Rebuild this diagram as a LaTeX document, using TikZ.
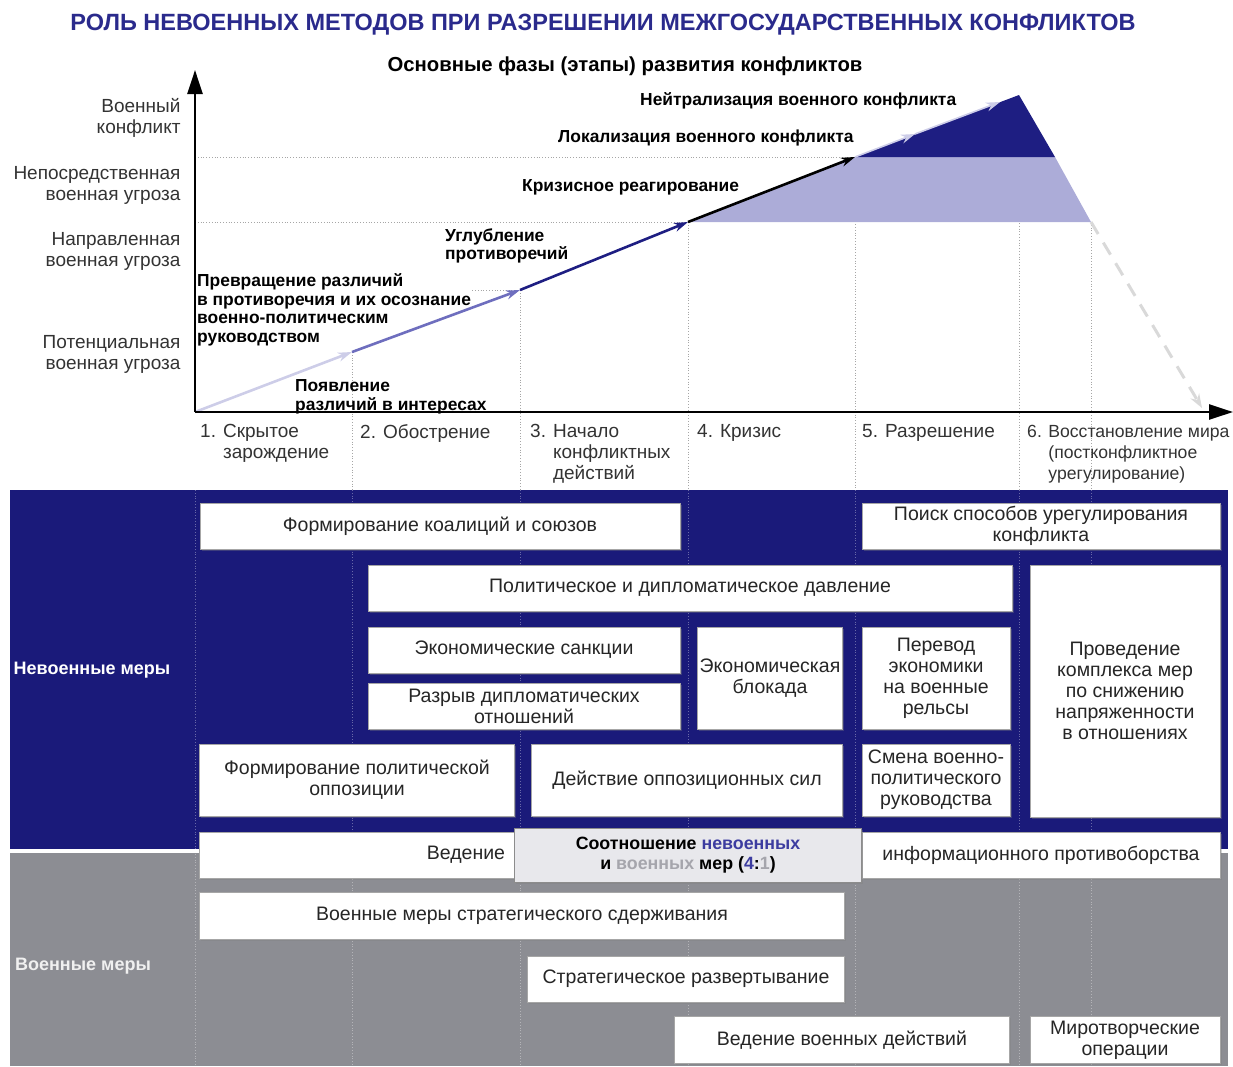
\documentclass[tikz,border=0pt]{standalone}
\usepackage{fontspec}
\setmainfont{Liberation Sans}
\usetikzlibrary{arrows.meta,shadows}
\definecolor{navy}{RGB}{26,26,122}
\definecolor{titleblue}{RGB}{42,42,140}
\definecolor{milgray}{RGB}{140,141,147}
\definecolor{lav}{RGB}{172,172,216}
\definecolor{deepblue}{RGB}{30,30,130}
\definecolor{palelav}{RGB}{205,205,232}
\definecolor{midlav}{RGB}{110,110,190}
\definecolor{ratiofill}{RGB}{232,232,236}
\definecolor{softblue}{RGB}{60,60,160}
\definecolor{softgray}{RGB}{165,165,172}

\begin{document}
\begin{tikzpicture}
    [ x=1pt, y=-1pt
    , font=\fontsize{19.5}{21}\selectfont
    , box/.style={draw=black!35, fill=white, align=center, inner sep=2pt, text=black!85,
                  drop shadow={shadow xshift=1.5pt, shadow yshift=-1.5pt, opacity=0.35}}
    , lvl/.style={anchor=east, align=right, text=black!80, font=\fontsize{19}{21}\selectfont}
    , phase/.style={anchor=north west, align=left, text=black!80, inner sep=0pt, font=\fontsize{19}{21}\selectfont}
    , stage/.style={anchor=west, align=left, inner sep=0pt, font=\fontsize{17.4}{18.5}\selectfont\bfseries}
    , side/.style={font=\fontsize{18}{21}\selectfont\bfseries}
    , grid/.style={draw=black!35, dotted, line width=0.8pt}
    , bandgrid/.style={draw=white, opacity=0.35, dotted, line width=0.8pt}
    , axis/.style={line width=2.4pt, -{Triangle[length=24pt,width=15pt]}}
    , rise/.style={line width=2.6pt, -{Stealth[length=14pt,width=9pt]}}
    ]
\useasboundingbox (0,0) rectangle (1233,1066);

% titles
\node[font=\fontsize{23.5}{28}\selectfont\bfseries, text=titleblue] (title) at (603,25)
    {РОЛЬ НЕВОЕННЫХ МЕТОДОВ ПРИ РАЗРЕШЕНИИ МЕЖГОСУДАРСТВЕННЫХ КОНФЛИКТОВ};
\node[font=\fontsize{20.3}{23}\selectfont\bfseries] (subtitle) at (625,66)
    {Основные фазы (этапы) развития конфликтов};

% key points of the curve
\coordinate (o) at (195,412);
\coordinate (ytop) at (195,70);
\coordinate (xend) at (1233,412);
\coordinate (p1) at (352,352);
\coordinate (p2) at (520,290);
\coordinate (p3) at (688,222);
\coordinate (p4) at (855,157);
\coordinate (q1) at (915,134);
\coordinate (q2) at (1000,102);
\coordinate (p5) at (1019,95);
\coordinate (p6) at (1055,157);
\coordinate (p7) at (1091,222);
\coordinate (p8) at (1202,408);

% bands
\fill[navy] (10,490) rectangle (1228,849);
\fill[milgray] (10,853) rectangle (1228,1066);

% guide lines
\draw[grid] (195,157) -- (p4);
\draw[grid] (195,222) -- (p3);
\draw[grid] (195,290) -- (p2);
\foreach \x/\y in {352/352, 520/290, 688/222, 855/157, 1091/222}
    \draw[grid] (\x,\y) -- (\x,490);
\draw[grid] (1019,97) -- (1019,490);
\foreach \x in {195, 352, 520, 688, 855, 1019, 1091}
    \draw[bandgrid] (\x,490) -- (\x,1066);

% levels
\node[lvl] (lv4) at (184,118) {Военный\\конфликт};
\node[lvl] (lv3) at (184,185) {Непосредственная\\военная угроза};
\node[lvl] (lv2) at (184,251) {Направленная\\военная угроза};
\node[lvl] (lv1) at (184,354) {Потенциальная\\военная угроза};

% phases
\node[phase] (ph1) at (200,424) {1. Скрытое\\\phantom{1. }зарождение};
\node[phase] (ph2) at (360,424) {2. Обострение};
\node[phase] (ph3) at (530,424) {3. Начало\\\phantom{3. }конфликтных\\\phantom{3. }действий};
\node[phase] (ph4) at (697,424) {4. Кризис};
\node[phase] (ph5) at (862,424) {5. Разрешение};
\node[phase, font=\fontsize{17.6}{21}\selectfont] (ph6) at (1027,425)
    {6. Восстановление мира\\\phantom{6. }(постконфликтное\\\phantom{6. }урегулирование)};

% stage labels
\node[stage, fill=white] (st3) at (197,310)
    {Превращение различий\\в противоречия и их осознание\\военно-политическим\\руководством};
\node[stage] (st1) at (295,397) {Появление\\различий в интересах};
\node[stage] (st4) at (445,246) {Углубление\\противоречий};
\node[stage] (st5) at (522,187) {Кризисное реагирование};
\node[stage] (st6) at (558,138) {Локализация военного конфликта};
\node[stage] (st7) at (640,101) {Нейтрализация военного конфликта};

% curve
\fill[lav] (p3) -- (p4) -- (p6) -- (p7) -- cycle;
\fill[deepblue] (p4) -- (p5) -- (p6) -- cycle;
\draw[black!15, dashed, dash pattern=on 14pt off 10pt, line width=3pt,
      -{Stealth[length=14pt,width=10pt]}] (p7) -- (p8);
\draw[rise, palelav] (o) -- (p1);
\draw[rise, midlav] (p1) -- (p2);
\draw[rise, deepblue] (p2) -- (p3);
\draw[rise, black] (p3) -- (p4);
\draw[rise, line width=1.6pt, palelav] (p4) -- (q1);
\draw[rise, line width=1.6pt, palelav] (q1) -- (q2);

% axes
\draw[axis] (o) -- (ytop);
\draw[axis] (o) -- (xend);

% side labels
\node[side, text=white] (nonmil) at (92,670) {Невоенные меры};
\node[side, text=white!88!gray] (mil) at (83,966) {Военные меры};

% non-military measures
\node[box, minimum width=480, minimum height=46] (coal) at (440,526) {Формирование коалиций и союзов};
\node[box, minimum width=358, minimum height=46] (search) at (1041,526) {Поиск способов урегулирования\\конфликта};
\node[box, minimum width=644, minimum height=46] (press) at (690,588) {Политическое и дипломатическое давление};
\node[box, minimum width=190, minimum height=252] (detente) at (1125,691)
    {Проведение\\комплекса мер\\по снижению\\напряженности\\в отношениях};
\node[box, minimum width=312, minimum height=46] (sanct) at (524,650) {Экономические санкции};
\node[box, minimum width=312, minimum height=46] (rupture) at (524,706) {Разрыв дипломатических\\отношений};
\node[box, minimum width=145, minimum height=102, inner sep=1pt] (blockade) at (770,678) {Экономическая\\блокада};
\node[box, minimum width=148, minimum height=102] (convert) at (936,678) {Перевод\\экономики\\на военные\\рельсы};
\node[box, minimum width=315, minimum height=72] (opposition) at (357,780) {Формирование политической\\оппозиции};
\node[box, minimum width=311, minimum height=72] (forces) at (687,780) {Действие оппозиционных сил};
\node[box, minimum width=148, minimum height=72] (leaders) at (936,780) {Смена военно-\\политического\\руководства};

% information warfare
\node[box, minimum width=315, minimum height=46, text width=296, align=right] (info1) at (357,855) {Ведение};
\node[box, minimum width=358, minimum height=46] (info2) at (1041,855) {информационного противоборства};
\node[box, fill=ratiofill, draw=black!45, minimum width=347, minimum height=54,
      font=\fontsize{17.8}{20}\selectfont\bfseries, text=black] (ratio) at (688,855)
    {Соотношение \textcolor{softblue}{невоенных}\\и \textcolor{softgray}{военных} мер (\textcolor{softblue}{4}:\textcolor{softgray}{1})};

% military measures
\node[box, minimum width=645, minimum height=47] (deter) at (522,916) {Военные меры стратегического сдерживания};
\node[box, minimum width=317, minimum height=46] (deploy) at (686,979) {Стратегическое развертывание};
\node[box, minimum width=335, minimum height=47] (war) at (842,1040) {Ведение военных действий};
\node[box, minimum width=190, minimum height=47] (peace) at (1125,1040) {Миротворческие\\операции};

\end{tikzpicture}
\end{document}
